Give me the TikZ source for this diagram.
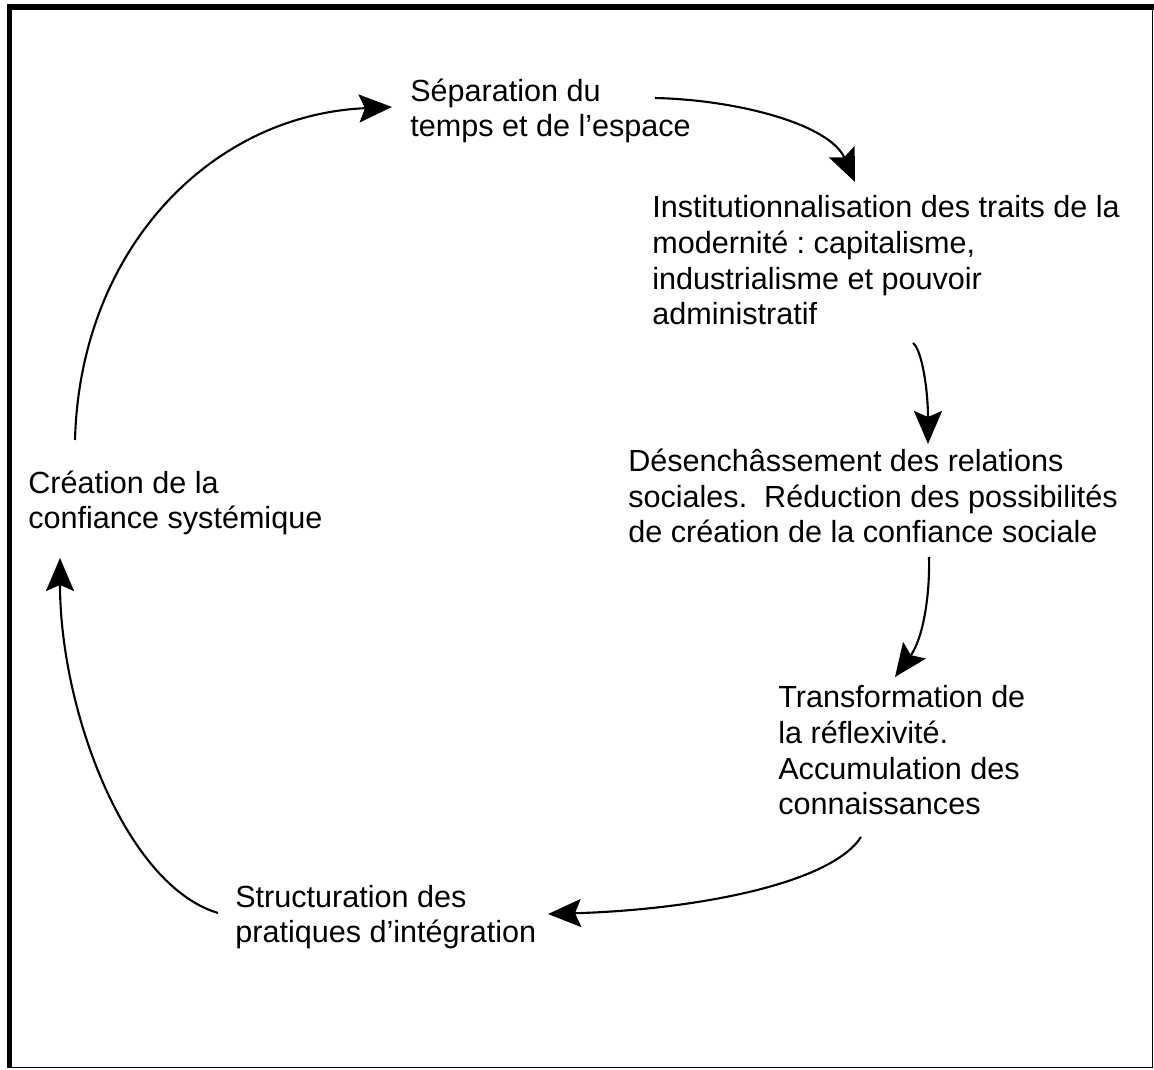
\documentclass[tikz,border=0pt]{standalone}
\usepackage{fontspec, tkz-euclide}
\setmainfont{Liberation Sans}
\usetikzlibrary{arrows.meta}
\frenchspacing

\begin{document}
\begin{tikzpicture}[x=0.02cm,y=-0.02cm,
  etape/.style={anchor=base west, inner sep=0pt, align=left,
    font=\fontsize{17.4pt}{20.4pt}\selectfont},
  fleche/.style={line width=1.2pt,
    -{Stealth[length=6.6mm,width=5.6mm,inset=1.2mm]}}]
\useasboundingbox (0,0) rectangle (1154,1070);
% cadre
\draw[line width=0.9pt] (9.5,7) rectangle (1152.5,1067.5);
\draw[line width=3.4pt] (6.5,7) -- (1154,7);
\draw[line width=3pt] (9.5,4) -- (9.5,1068.5);
% points (ligne de base de la derniere ligne)
\tkzDefPoints{410/137/S, 652/325/I, 628/543/D, 778/815/T, 235/943/P, 28/529/C}
\node[etape] (sep) at (S) {Séparation du\\temps et de l’espace};
\node[etape] (inst) at (I) {Institutionnalisation des traits de la\\modernité : capitalisme,\\industrialisme et pouvoir\\administratif};
\node[etape] (desench) at (D) {Désenchâssement des relations\\sociales.~ Réduction des possibilités\\de création de la confiance sociale};
\node[etape] (transf) at (T) {Transformation de\\la réflexivité.\\Accumulation des\\connaissances};
\node[etape] (struct) at (P) {Structuration des\\pratiques d’intégration};
\node[etape] (crea) at (C) {Création de la\\confiance systémique};
% extremites des fleches
\tkzDefPoints{75/440/a1, 392/107/b1, 655/98/a2, 855/182/b2, 913/343/a3,
  928/444/b3, 929/557/a4, 895/677/b4, 861/837/a5, 548/914/b5,
  218/913/a6, 60/558/b6}
\draw[fleche] (a1) .. controls (80,250) and (210,115) .. (b1);
\draw[fleche] (a2) .. controls (740,100) and (830,125) .. (b2);
\draw[fleche] (a3) .. controls (922,350) and (928,390) .. (b3);
\draw[fleche] (a4) .. controls (930,600) and (922,640) .. (b4);
\draw[fleche] (a5) .. controls (830,885) and (690,910) .. (b5);
\draw[fleche] (a6) .. controls (125,885) and (60,710) .. (b6);
\end{tikzpicture}
\end{document}
